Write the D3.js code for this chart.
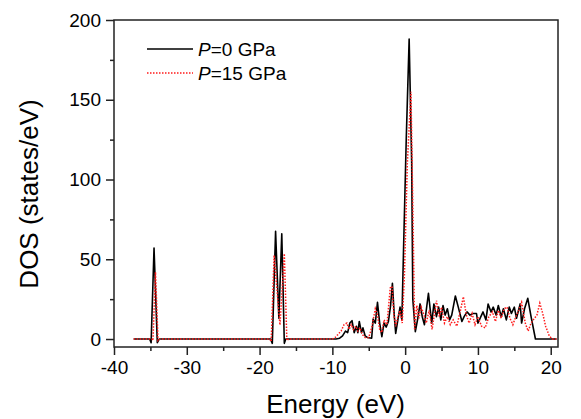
<!DOCTYPE html>
<html>
<head>
<meta charset="utf-8">
<script src="https://cdn.jsdelivr.net/npm/d3@7"></script>
<style>
  html, body { margin: 0; padding: 0; background: #fff; }
  svg { display: block; font-family: "Liberation Sans", Arial, sans-serif; }
</style>
</head>
<body>
<svg id="chart" width="581" height="419"></svg>
<script>
// Total density of states at two pressures
const energy0 = [-37.3, -35.1, -34.9, -34.5, -34.05, -33.8, -18.5, -18.25, -17.8, -17.35, -16.95, -16.6, -16.4,
  -9.5, -9.0, -8.6, -8.2, -7.9, -7.6, -7.3, -7.0, -6.7, -6.5, -6.3, -6.0, -5.8, -5.5, -5.2, -4.6, -4.4, -4.1,
  -3.8, -3.5, -3.2, -2.9, -2.6, -2.3, -2.0, -1.75, -1.5, -1.3, -1.0, -0.7, -0.45, -0.2, 0.15, 0.55, 0.9, 1.05,
  1.4, 1.7, 2.05, 2.35, 2.65, 3.2, 3.65, 3.95, 4.3, 4.6, 4.9, 5.2, 5.5, 5.8, 6.1, 6.4, 6.9, 7.3, 7.8, 8.1,
  8.5, 8.9, 9.3, 9.8, 10.0, 10.4, 10.7, 11.1, 11.4, 11.8, 12.1, 12.5, 12.8, 13.2, 13.5, 13.9, 14.3, 14.6,
  15.0, 15.3, 15.8, 16.0, 16.4, 16.85, 17.3, 17.9, 18.5, 20.8];
const dos0 = [0, 0, -2.3, 57, -2.3, 0, 0, -2.7, 67.5, 13, 66, -2.7, 0,
  0, 0.5, 2, 5, 4, 10, 11.5, 4, 8, 4, 11, 4, 7, 2, 1, 0.5, 12.5, 10,
  23, 10, 1.5, 10, 7.5, 11, 21, 35, 15, 3.5, 12, 20, 12, 60, 125, 188, 110, 25,
  4.6, 12, 22, 14, 9, 28.7, 10, 22, 14, 20, 12, 21, 15, 19, 12, 15, 27, 20, 11, 14,
  17, 15, 16, 16, 10, 14, 17, 12, 22, 17, 20, 15, 21, 14, 19, 12, 20, 16,
  20, 13, 22, 10, 19, 25.5, 14, 0, 0, 0];

const energy15 = [-37.3, -34.8, -34.65, -34.3, -33.95, -33.7, -18.6, -18.4, -18.0, -17.2, -16.6, -16.25, -16.0,
  -10.0, -9.6, -9.2, -8.8, -8.4, -8.0, -7.7, -7.4, -7.1, -6.8, -6.5, -6.2, -5.9, -5.5, -5.0, -4.6, -4.1, -3.8,
  -3.5, -3.2, -2.9, -2.5, -2.05, -1.8, -1.55, -1.3, -1.0, -0.7, -0.4, -0.1, 0.3, 0.8, 1.1, 1.3, 1.6, 1.9,
  2.2, 2.6, 2.9, 3.3, 3.7, 4.3, 4.7, 5.0, 5.4, 5.8, 6.2, 6.6, 7.1, 7.6, 8.0, 8.4, 8.8, 9.2, 9.6, 10.0,
  10.5, 11.0, 11.5, 12.0, 12.4, 12.8, 13.2, 13.6, 14.0, 14.4, 14.8, 15.2, 15.6, 16.0, 16.5, 16.9, 17.3,
  17.6, 18.1, 18.5, 18.9, 19.3, 19.8, 20.2, 20.8];
const dos15 = [0, 0, -1, 42, -1, 0, 0, -1.5, 52.5, 8.8, 53.5, -1, 0,
  0, 1, 3, 5, 9, 10, 6, 9, 6, 8, 5, 7, 3, 1, 1, 7, 19, 15,
  6, 4, 12, 9, 32, 33, 15, 8, 14, 18, 10, 40, 110, 155, 70, 5.6, 21, 13,
  20, 15, 10, 18, 6, 24, 14, 20, 10, 14, 9, 12, 8, 18, 26.5, 15, 10, 16, 9, 14,
  8, 7, 14, 17, 11, 18, 13, 19, 20, 13, 9, 14, 18, 23, 10, 5, 10,
  12, 15, 22.5, 16, 8, 2, 0, 0];

const xMajorTicks = [-40, -30, -20, -10, 0, 10, 20];
const xMinorTicks = [-35, -25, -15, -5, 5, 15];
const yMajorTicks = [0, 50, 100, 150, 200];
const yMinorTicks = [25, 75, 125, 175];

const seriesLabels = ["=0 GPa", "=15 GPa"];

const svg = d3.select("#chart");
const plotLeft = 114, plotRight = 558, plotTop = 20, plotBottom = 347;

const x = d3.scaleLinear().domain([-40, 21]).range([plotLeft, plotRight]);
const y = d3.scaleLinear().domain([-5, 200]).range([plotBottom, plotTop]);

// Plot frame
svg.append("rect")
  .attr("x", plotLeft).attr("y", plotTop)
  .attr("width", plotRight - plotLeft).attr("height", plotBottom - plotTop)
  .attr("fill", "none").attr("stroke", "#222").attr("stroke-width", 1.5);

// Axes: major ticks with labels, minor ticks without
function styleAxis(g) {
  g.select(".domain").remove();
  g.selectAll(".tick line").attr("stroke", "#222").attr("stroke-width", 1.5);
  g.selectAll(".tick text").attr("font-size", 19).attr("fill", "#000")
    .attr("font-family", "Liberation Sans, Arial, sans-serif");
}

svg.append("g").attr("transform", `translate(0,${plotBottom})`)
  .call(d3.axisBottom(x).tickValues(xMajorTicks).tickSize(8).tickPadding(6).tickFormat(d => d < 0 ? "-" + Math.abs(d) : String(d)))
  .call(styleAxis);
svg.append("g").attr("transform", `translate(0,${plotBottom})`)
  .call(d3.axisBottom(x).tickValues(xMinorTicks).tickSize(4).tickFormat(""))
  .call(styleAxis);

svg.append("g").attr("transform", `translate(${plotLeft},0)`)
  .call(d3.axisLeft(y).tickValues(yMajorTicks).tickSize(8).tickPadding(5).tickFormat(d3.format("d")))
  .call(styleAxis);
svg.append("g").attr("transform", `translate(${plotLeft},0)`)
  .call(d3.axisLeft(y).tickValues(yMinorTicks).tickSize(4).tickFormat(""))
  .call(styleAxis);

// Axis titles
svg.append("text")
  .attr("x", (plotLeft + plotRight) / 2 - 0.5).attr("y", 413)
  .attr("text-anchor", "middle").attr("font-size", 26).attr("fill", "#000")
  .text("Energy (eV)");
svg.append("text")
  .attr("transform", "translate(38,194) rotate(-90)")
  .attr("text-anchor", "middle").attr("font-size", 26).attr("fill", "#000")
  .text("DOS (states/eV)");

// Curves
svg.append("clipPath").attr("id", "plot-clip")
  .append("rect").attr("x", plotLeft).attr("y", plotTop)
  .attr("width", plotRight - plotLeft).attr("height", plotBottom - plotTop);

const line = d3.line().x(d => x(d[0])).y(d => y(d[1]));
const pts0 = d3.zip(energy0, dos0);
const pts15 = d3.zip(energy15, dos15);

const plot = svg.append("g").attr("clip-path", "url(#plot-clip)");
plot.append("path").datum(pts0).attr("d", line)
  .attr("fill", "none").attr("stroke", "#000").attr("stroke-width", 1.6).attr("stroke-linejoin", "round");
plot.append("path").datum(pts15).attr("d", line)
  .attr("fill", "none").attr("stroke", "#ff1a1a").attr("stroke-width", 1.5)
  .attr("stroke-dasharray", "1.5,1.5");

// Legend
const legend = svg.append("g");
const legendRows = [
  { y: 49, stroke: "#000", dash: null, width: 1.6, label: seriesLabels[0] },
  { y: 73, stroke: "#ff1a1a", dash: "1.5,1.5", width: 1.5, label: seriesLabels[1] }
];
legendRows.forEach(r => {
  legend.append("line")
    .attr("x1", 147).attr("x2", 193).attr("y1", r.y).attr("y2", r.y)
    .attr("stroke", r.stroke).attr("stroke-width", r.width)
    .attr("stroke-dasharray", r.dash);
  const t = legend.append("text").attr("x", 198).attr("y", r.y + 7)
    .attr("font-size", 19).attr("fill", "#000");
  t.append("tspan").attr("font-style", "italic").text("P");
  t.append("tspan").text(r.label);
});
</script>
</body>
</html>
